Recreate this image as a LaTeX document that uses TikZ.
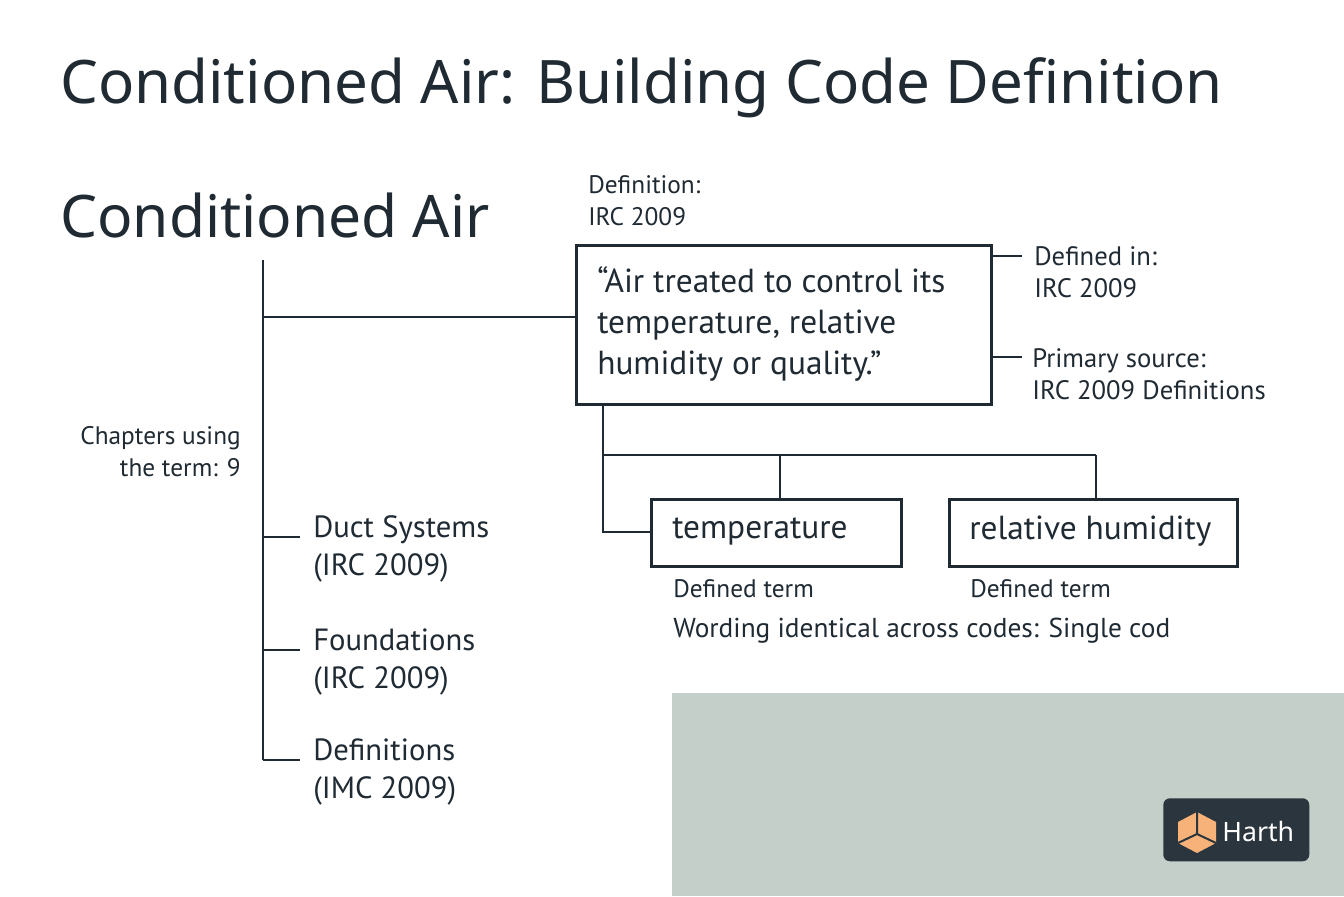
\documentclass[tikz,border=0pt]{standalone}
\usepackage{fontspec}
\setmainfont{PT Sans}
\newfontfamily\titlefont{Noto Sans}
\begin{document}
\begin{tikzpicture}[x=0.75pt,y=-0.75pt,
  ln/.style={draw=ink,line width=2.2pt},
  box/.style={draw=ink,line width=2.2pt,fill=white},
  txt/.style={text=ink,anchor=west,inner sep=0pt,align=left},
  sm/.style={txt,font=\fontsize{19}{24}\selectfont},
  md/.style={txt,font=\fontsize{23}{29}\selectfont}]
\definecolor{ink}{HTML}{1F2A33}
\definecolor{sage}{HTML}{C3CFC8}
\definecolor{logo}{HTML}{2B353D}
\definecolor{orng}{HTML}{F7B27A}
\useasboundingbox (0,0) rectangle (1344,896);
\fill[white] (0,0) rectangle (1344,896);
\fill[sage] (672,693) rectangle (1344,896);
% titles
\node[txt,font=\titlefont\fontsize{45}{54}\selectfont] (title) at (60,88) {Conditioned Air: Building Code Definition};
\node[txt,font=\titlefont\fontsize{44}{54}\selectfont] (term) at (60,215) {Conditioned Air};
% trunk
\coordinate (t0) at (263,260); \coordinate (t1) at (263,760);
\draw[ln] (t0) -- (t1);
% definition box
\node[box,minimum width=415*0.75pt,minimum height=159*0.75pt,anchor=north west,inner sep=0pt] (def) at (575,244) {};
\node[txt,font=\fontsize{25}{31}\selectfont] (deftxt) at (597,324) {“Air treated to control its\\temperature, relative\\humidity or quality.”};
\coordinate (b1) at (263,317);
\draw[ln] (b1) -- (def.west |- b1);
\node[sm] (deflab) at (588,201) {Definition:\\IRC 2009};
% right notes
\coordinate (r1) at (990,256); \coordinate (r1e) at (1022,256);
\coordinate (r2) at (990,357); \coordinate (r2e) at (1022,357);
\draw[ln] (r1) -- (r1e); \draw[ln] (r2) -- (r2e);
\node[sm,font=\fontsize{20}{24}\selectfont] (n1) at (1034,272) {Defined in:\\IRC 2009};
\node[sm,font=\fontsize{20}{24}\selectfont] (n2) at (1032,374) {Primary source:\\IRC 2009 Definitions};
% chapters
\node[sm,anchor=east,align=right] (chap) at (241,452) {Chapters using\\the term: 9};
\foreach \y/\a/\b [count=\i] in {537/Duct Systems/IRC 2009,650/Foundations/IRC 2009,760/Definitions/IMC 2009}{
  \coordinate (c\i) at (263,\y); \coordinate (ce\i) at (300,\y);
  \draw[ln] (c\i) -- (ce\i);
  \node[md] (ch\i) at (313,\y+12) {\a\\(\b)};
}
% sub terms
\node[box,minimum width=250*0.75pt,minimum height=67*0.75pt,anchor=north west,inner sep=0pt] (temp) at (650,498) {};
\node[txt,font=\fontsize{25}{30}\selectfont] (tempt) at (672,531) {temperature};
\node[box,minimum width=288*0.75pt,minimum height=67*0.75pt,anchor=north west,inner sep=0pt] (rh) at (948,498) {};
\node[txt,font=\fontsize{25}{30}\selectfont] (rht) at (969,531) {relative humidity};
\coordinate (d0) at (603,403); \coordinate (d1) at (603,532);
\draw[ln] (d0) -- (d1) -- (temp.west |- d1);
\coordinate (h0) at (603,455); \coordinate (h1) at (1096,455);
\draw[ln] (h0) -- (h1);
\coordinate (v1) at (780,455); \coordinate (v2) at (1096,455);
\draw[ln] (v1) -- (v1 |- temp.north);
\draw[ln] (v2) -- (v2 |- rh.north);
\node[sm] (dt1) at (673,589) {Defined term};
\node[sm] (dt2) at (970,589) {Defined term};
\node[sm,font=\fontsize{20.5}{24}\selectfont] (word) at (673,631) {Wording identical across codes: Single cod};
% logo
\node[fill=logo,rounded corners=5pt,minimum width=146*0.75pt,minimum height=63*0.75pt,anchor=north west,inner sep=0pt] (logo) at (1163,798) {};
\fill[orng] (1197,812) -- (1216,822) -- (1216,843) -- (1197,853) -- (1178,843) -- (1178,822) -- cycle;
\draw[logo,line width=1.5pt] (1197,812) -- (1197,834) -- (1178,843) (1197,834) -- (1216,843);
\node[txt,text=white,font=\titlefont\bfseries\fontsize{20}{24}\selectfont] (logot) at (1222,831) {Harth};
\end{tikzpicture}
\end{document}
